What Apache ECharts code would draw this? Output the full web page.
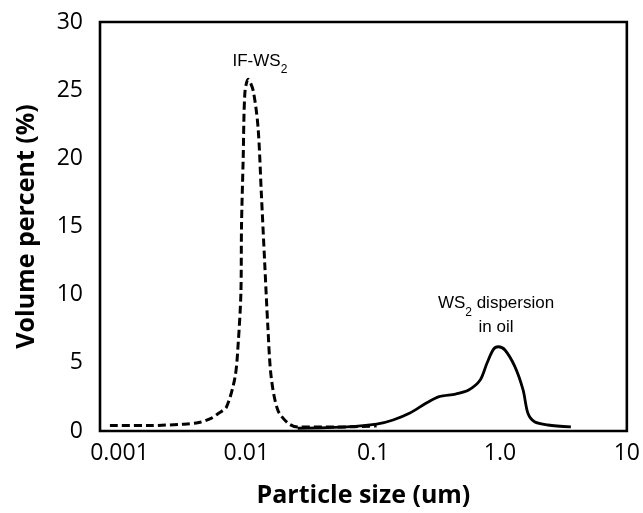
<!DOCTYPE html>
<html>
<head>
<meta charset="utf-8">
<script src="https://cdn.jsdelivr.net/npm/echarts@6/dist/echarts.min.js"></script>
<style>
  html, body { margin: 0; padding: 0; background: #fff; }
  #myChart { width: 643px; height: 513px; }
</style>
</head>
<body>
<div id="myChart"></div>
<script>
// IF-WS2 (dashed)
var ifSizes = [0.00084, 0.00172, 0.00316, 0.00422, 0.00532, 0.00604, 0.00697, 0.00815, 0.00863, 0.00906, 0.00916,
  0.00944, 0.00974, 0.01033, 0.0113, 0.01236, 0.01312, 0.01393, 0.01479, 0.0157, 0.0177, 0.0212, 0.0254, 0.0519, 0.1064];
var ifValues = [0.40, 0.40, 0.50, 0.62, 0.95, 1.3, 1.76, 3.96, 6.45, 10.1, 15.0,
  19.9, 24.8, 25.8, 25.0, 22.3, 17.5, 12.5, 7.6, 3.96, 1.54, 0.59, 0.29, 0.29, 0.37];

// WS2 dispersion in oil (solid)
var oilSizes = [0.0254, 0.0621, 0.1064, 0.1436, 0.193, 0.2606, 0.331, 0.447, 0.566, 0.698, 0.789,
  0.887, 0.97, 1.094, 1.31, 1.52, 1.66, 1.87, 2.38, 3.62];
var oilValues = [0.20, 0.30, 0.50, 0.81, 1.30, 2.03, 2.52, 2.71, 3.01, 3.74, 4.97,
  5.99, 6.18, 5.94, 4.72, 3.01, 1.30, 0.68, 0.44, 0.30];

var xTickLabels = ['0.001', '0.01', '0.1', '1.0', '10'];
var xMin = 0.000702;
var xMax = 10;

function pairs(xs, ys) {
  return xs.map(function (x, i) { return [x, ys[i]]; });
}

var myChart = echarts.init(document.getElementById('myChart'));
myChart.setOption({
  backgroundColor: '#fff',
  animation: false,
  grid: {
    left: 100,
    right: 10,
    top: 22,
    bottom: 82,
    show: true,
    borderColor: '#000',
    borderWidth: 2.6
  },
  xAxis: {
    type: 'log',
    logBase: 10,
    min: xMin,
    max: xMax,
    name: 'Particle size (um)',
    nameLocation: 'middle',
    nameGap: 52,
    nameTextStyle: { fontFamily: 'Open Sans', fontWeight: 'bold', fontSize: 25, color: '#000' },
    axisLine: { show: false },
    axisTick: { show: false },
    splitLine: { show: false },
    minorTick: { show: false },
    axisLabel: {
      showMinLabel: false,
      margin: 11,
      fontFamily: 'Open Sans',
      fontSize: 23,
      color: '#000',
      formatter: function (v) {
        var i = Math.round(Math.log10(v)) + 3;
        return xTickLabels[i] || '';
      }
    }
  },
  yAxis: {
    type: 'value',
    min: 0,
    max: 30,
    interval: 5,
    name: 'Volume percent (%)',
    nameLocation: 'middle',
    nameGap: 61,
    nameTextStyle: { fontFamily: 'Open Sans', fontWeight: 'bold', fontSize: 25, color: '#000' },
    axisLine: { show: false },
    axisTick: { show: false },
    splitLine: { show: false },
    axisLabel: { margin: 17, fontFamily: 'Open Sans', fontSize: 23, color: '#000' }
  },
  series: [
    {
      name: 'IF-WS2',
      type: 'line',
      data: pairs(ifSizes, ifValues),
      smooth: 0.3,
      symbol: 'none',
      lineStyle: { color: '#000', width: 3, type: [8, 4] },
      markPoint: {
        symbol: 'circle',
        symbolSize: 0,
        label: {
          show: true,
          position: 'inside',
          formatter: '{a|IF-WS}{s|2}',
          rich: {
            a: { fontFamily: 'Liberation Sans', fontSize: 17, color: '#000', lineHeight: 20 },
            s: { fontFamily: 'Liberation Sans', fontSize: 12, color: '#000', lineHeight: 20, verticalAlign: 'bottom', padding: [0, 0, -4, 0] }
          }
        },
        data: [{ coord: [0.0128, 27.1] }]
      }
    },
    {
      name: 'WS2 dispersion in oil',
      type: 'line',
      data: pairs(oilSizes, oilValues),
      smooth: 0.3,
      symbol: 'none',
      lineStyle: { color: '#000', width: 2.8 },
      markPoint: {
        symbol: 'circle',
        symbolSize: 0,
        label: {
          show: true,
          position: 'inside',
          align: 'center',
          formatter: '{a|WS}{s|2}{a| dispersion}\n{a|in oil}',
          rich: {
            a: { fontFamily: 'Liberation Sans', fontSize: 17, color: '#000', lineHeight: 24, align: 'center' },
            s: { fontFamily: 'Liberation Sans', fontSize: 12, color: '#000', lineHeight: 24, verticalAlign: 'bottom', padding: [0, 0, -4, 0] }
          }
        },
        data: [{ coord: [0.93, 8.5] }]
      }
    }
  ]
});
</script>
</body>
</html>
